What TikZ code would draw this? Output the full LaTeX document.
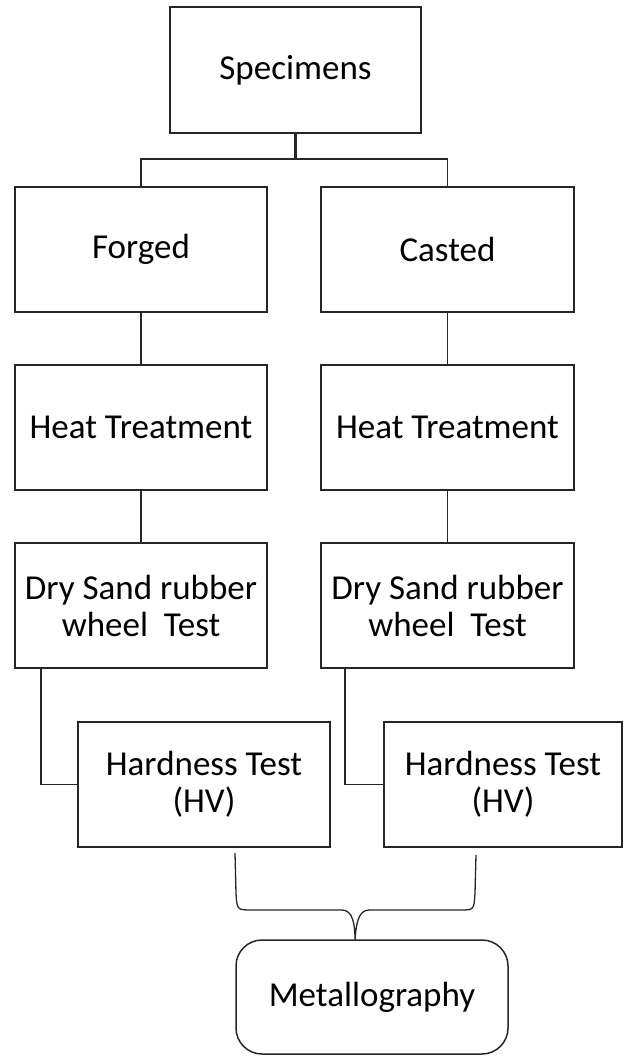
\documentclass[tikz,border=0pt]{standalone}
\usepackage{fontspec}
\setmainfont{Carlito}
\begin{document}
\begin{tikzpicture}[x=1pt,y=-1pt,
  box/.style={draw=black!85, line width=1.5pt, fill=white, align=center, inner sep=0pt,
    font=\fontsize{35}{37}\selectfont, minimum height=125pt},
  link/.style={draw=black!85, line width=1.5pt}]
\useasboundingbox (0,0) rectangle (624,1056);
\node[box, minimum width=251pt, minimum height=126pt] (spec) at (295.5,70) {Specimens};
\node[box, minimum width=252pt] (forged) at (141,249.5) {Forged};
\node[box, minimum width=253pt] (casted) at (447.5,249.5) {Casted};
\node[box, minimum width=252pt] (heatL) at (141,427.5) {Heat Treatment};
\node[box, minimum width=253pt] (heatR) at (447.5,427.5) {Heat Treatment};
\node[box, minimum width=252pt] (dryL) at (141,605.5) {Dry Sand rubber\\wheel~~Test};
\node[box, minimum width=253pt] (dryR) at (447.5,605.5) {Dry Sand rubber\\wheel~~Test};
\node[box, minimum width=252pt] (hardL) at (204,784.5) {Hardness Test\\(HV)};
\node[box, minimum width=238pt] (hardR) at (503,784.5) {Hardness Test\\(HV)};
\node[box, rounded corners=26pt, minimum width=272pt, minimum height=114pt] (metal) at (372,997) {Metallography};
\coordinate (jt) at (295.5,159);
\draw[link, line width=3pt] (spec.south) -- (jt);
\draw[link] (forged.north) |- (jt) -| (casted.north);
\draw[link] (forged) -- (heatL);
\draw[link] (casted) -- (heatR);
\draw[link] (heatL) -- (dryL);
\draw[link] (heatR) -- (dryR);
\coordinate (dl) at (41,668);
\coordinate (dr) at (345,668);
\draw[link] (dl) |- (hardL.west);
\draw[link] (dr) |- (hardR.west);
\coordinate (bl) at (235,853);
\coordinate (br) at (476,855);
\coordinate (tip) at (355,940);
\draw[link, line width=1.3pt] (bl) -- (236,893) .. controls (237,910) .. (252,910) -- (342,910)
  .. controls (353,910) and (355,925) .. (tip)
  .. controls (356,925) and (358,910) .. (369,910) -- (460,910)
  .. controls (474,910) .. (475,893) -- (br);
\end{tikzpicture}
\end{document}
